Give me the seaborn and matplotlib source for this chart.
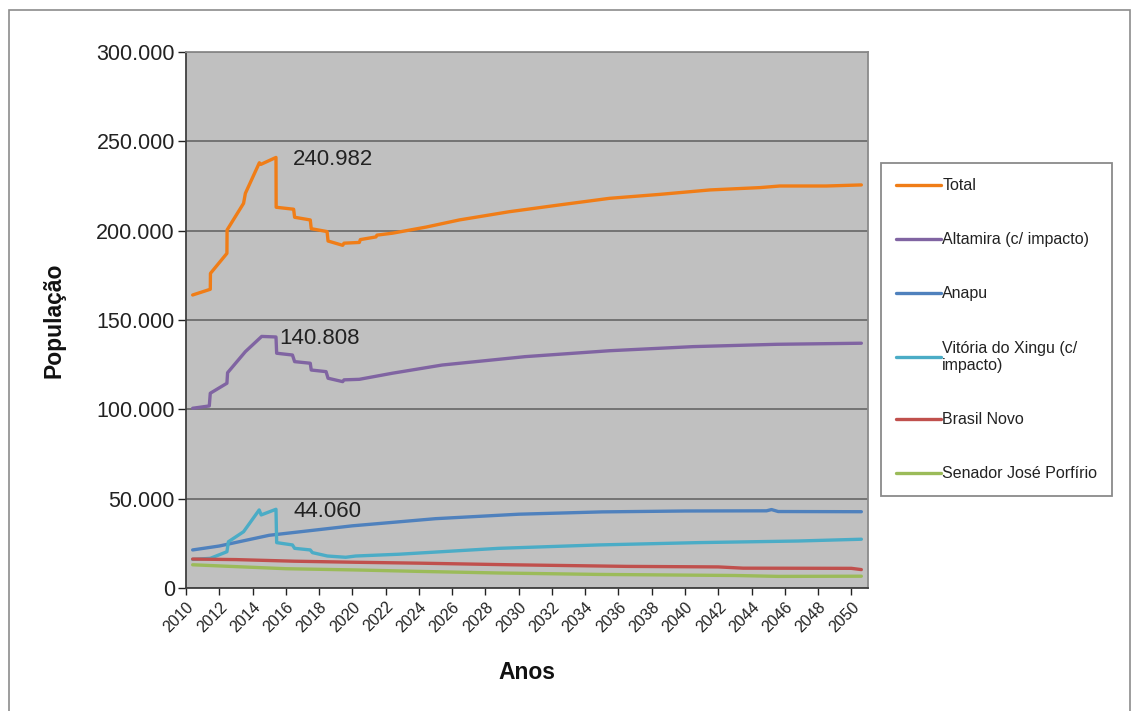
import matplotlib
matplotlib.use("Agg")
import matplotlib.pyplot as plt
from matplotlib.patches import Rectangle
from matplotlib.ticker import FuncFormatter, MultipleLocator
import pandas as pd
import seaborn as sns

# Population projection per municipality (vertices of each series, year -> inhabitants)
anos_total = [2010.40, 2011.46, 2011.47, 2012.46, 2012.47, 2013.46, 2013.57, 2014.41, 2014.50,
              2015.41, 2015.42, 2016.47, 2016.53, 2017.47, 2017.53, 2018.48, 2018.54, 2019.42,
              2019.50, 2020.42, 2020.48, 2021.42, 2021.48, 2022.42, 2024.43, 2026.43, 2029.43,
              2032.45, 2035.46, 2038.47, 2041.50, 2044.50, 2045.70, 2048.50, 2050.60]
pop_total = [164000, 167200, 176100, 187300, 200400, 215300, 220900, 238000, 237100,
             240982, 213100, 212000, 207500, 206000, 201100, 199500, 194200, 191800,
             193000, 193400, 195000, 196500, 197500, 198600, 202000, 206000, 210600,
             214400, 218100, 220300, 222800, 224100, 225000, 225000, 225600]

anos_altamira = [2010.40, 2011.40, 2011.46, 2012.46, 2012.50, 2013.57, 2014.55, 2015.41, 2015.45,
                 2016.40, 2016.53, 2017.47, 2017.53, 2018.42, 2018.54, 2019.42, 2019.50, 2020.42,
                 2022.40, 2025.40, 2030.40, 2035.46, 2040.50, 2045.50, 2050.60]
pop_altamira = [100600, 101900, 109000, 114600, 120500, 132300, 140808, 140500, 131400,
                130400, 126700, 125800, 122000, 121100, 117400, 115500, 116500, 116800,
                120200, 124800, 129500, 132800, 135100, 136400, 137000]

anos_anapu = [2010.40, 2012.00, 2015.00, 2020.00, 2025.00, 2030.00, 2035.00, 2040.00,
              2044.90, 2045.20, 2045.60, 2050.60]
pop_anapu = [21300, 23500, 29500, 34800, 38800, 41300, 42600, 43100,
             43200, 43900, 42800, 42700]

anos_vitoria = [2010.40, 2011.46, 2012.46, 2012.55, 2013.46, 2014.40, 2014.52, 2015.41, 2015.45,
                2016.40, 2016.53, 2017.47, 2017.60, 2018.50, 2019.60, 2020.20, 2022.80, 2028.80,
                2034.80, 2040.80, 2046.80, 2050.60]
pop_vitoria = [16000, 16600, 20300, 25900, 31500, 43700, 40900, 44060, 25400,
               24100, 22200, 21300, 19800, 17900, 17200, 17900, 18900, 22200,
               24100, 25400, 26300, 27300]

anos_brasil = [2010.40, 2013.00, 2016.50, 2020.20, 2024.00, 2029.50, 2036.50, 2042.00,
               2043.50, 2050.00, 2050.60]
pop_brasil = [16200, 15900, 15000, 14400, 13900, 13000, 12100, 11800,
              11100, 11000, 10300]

anos_senador = [2010.40, 2012.40, 2016.00, 2020.20, 2024.00, 2028.80, 2034.80, 2043.00,
                2045.60, 2050.60]
pop_senador = [13000, 12200, 10800, 10100, 9300, 8400, 7600, 7000,
               6500, 6600]

nomes = ["Total", "Altamira (c/ impacto)", "Anapu", "Vitória do Xingu (c/ impacto)",
         "Brasil Novo", "Senador José Porfírio"]
cores = ["#F07D17", "#8064A2", "#4F81BD", "#4BACC6", "#C0504D", "#9BBB59"]
anos_ticks = list(range(2010, 2051, 2))

frames = []
for nome, xs, ys in zip(nomes,
                        [anos_total, anos_altamira, anos_anapu, anos_vitoria, anos_brasil, anos_senador],
                        [pop_total, pop_altamira, pop_anapu, pop_vitoria, pop_brasil, pop_senador]):
    frames.append(pd.DataFrame({"ano": xs, "populacao": ys, "serie": nome}))
df = pd.concat(frames, ignore_index=True)

sns.set_theme(style="white")
plt.rcParams["font.family"] = ["Liberation Sans", "DejaVu Sans"]

W, H = 1132, 711
fig = plt.figure(figsize=(W / 100, H / 100), dpi=100)
fig.patch.set_facecolor("white")
fig.patches.append(Rectangle((9 / W, -0.02), (1130 - 9) / W, 1.02 - 10 / H,
                             transform=fig.transFigure, fill=False,
                             edgecolor="#8c8c8c", linewidth=1.2))

ax = fig.add_axes([186 / W, (H - 588) / H, (868 - 186) / W, (588 - 52) / H])
ax.set_facecolor("#C0C0C0")

sns.lineplot(data=df, x="ano", y="populacao", hue="serie", hue_order=nomes,
             palette=cores, estimator=None, sort=False, linewidth=2.4, ax=ax)

ax.set_xlim(2010, 2051)
ax.set_ylim(0, 300000)
ax.yaxis.set_major_locator(MultipleLocator(50000))
ax.yaxis.set_major_formatter(FuncFormatter(lambda v, p: f"{int(v):,}".replace(",", ".")))
ax.set_xticks(anos_ticks)
ax.set_xticklabels([str(a) for a in anos_ticks], rotation=45, ha="right",
                   rotation_mode="anchor", fontsize=11.5, color="#222222")
ax.tick_params(axis="y", labelsize=15.5, colors="#222222", length=6, width=1,
               direction="out", left=True, pad=2)
ax.tick_params(axis="x", length=5, width=1, direction="out", bottom=True, pad=3,
               colors="#222222")
ax.grid(axis="y", color="#6e6e6e", linewidth=1.3)
ax.grid(axis="x", visible=False)
ax.set_axisbelow(True)
for side, sp in ax.spines.items():
    sp.set_color("#8a8a8a")
    sp.set_linewidth(1.3)
ax.spines["left"].set_color("#404040")
ax.spines["bottom"].set_color("#404040")

ax.set_xlabel("Anos", fontsize=16.5, fontweight="bold", color="#111111", labelpad=19)
ax.set_ylabel("População", fontsize=16.5, fontweight="bold", color="#111111", labelpad=22)

# Peak values labelled next to each curve
def fmt(v):
    return f"{int(v):,}".replace(",", ".")

picos = [(max(pop_total), 2016.4, 239700), (max(pop_altamira), 2015.62, 139700),
         (max(pop_vitoria), 2016.45, 43000)]
for valor, xa, ya in picos:
    ax.text(xa, ya, fmt(valor), fontsize=16, color="#222222", va="center", ha="left")

# Legend on the right, boxed
handles, labels = ax.get_legend_handles_labels()
labels = [l.replace("Vitória do Xingu (c/ impacto)", "Vitória do Xingu (c/\nimpacto)") for l in labels]
leg = ax.legend(handles, labels, loc="upper left",
                bbox_to_anchor=(881 / W, 1 - 163 / H), bbox_transform=fig.transFigure,
                borderaxespad=0, fontsize=11.5, frameon=True, fancybox=False,
                edgecolor="#8a8a8a", facecolor="white", framealpha=1,
                handlelength=2.8, handletextpad=0.08, labelspacing=2.45,
                borderpad=0.95)
leg.get_frame().set_linewidth(1.3)
for t in leg.get_texts():
    t.set_color("#222222")
for h in leg.legend_handles:
    h.set_linewidth(2.4)

fig.savefig("out.png", dpi=100, facecolor="white")
